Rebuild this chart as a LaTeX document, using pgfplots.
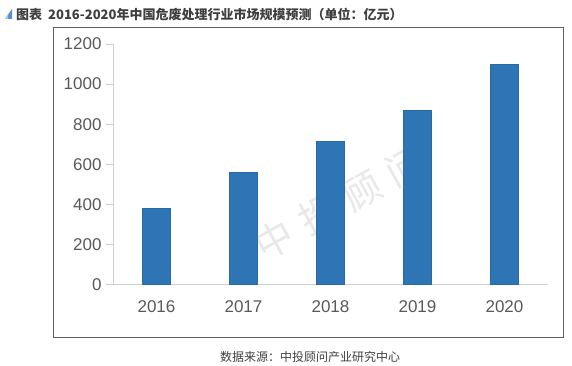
\documentclass[border=0pt]{standalone}
\usepackage{pgfplots}
\pgfplotsset{compat=1.18}
\usepackage{fontspec}
\setmainfont{Liberation Sans}
\newfontfamily\cjk{Noto Sans CJK SC}
\definecolor{barblue}{HTML}{2E75B6}
\definecolor{axgray}{HTML}{D0D0D0}
\definecolor{lblgray}{HTML}{595959}
\definecolor{ttlgray}{HTML}{3F3F3F}
\begin{document}
\begin{tikzpicture}[x=1pt,y=1pt]
\path (0,0) rectangle (572,-366);
% frame
\draw[color=gray!75!black, line width=1pt] (53,-28) rectangle (563,-337);
% watermark
\node[rotate=29, text=gray!18, font=\cjk\fontsize{38}{38}\selectfont] at (340,-203) {中\hspace{12pt}投\hspace{12pt}顾\hspace{12pt}问};
\begin{axis}[
  at={(113pt,-284.5pt)}, anchor=south west,
  scale only axis, width=435pt, height=240.5pt,
  xmin=-0.5, xmax=4.5, ymin=0, ymax=1200,
  axis lines*=left,
  axis line style={draw=axgray, line width=0.8pt},
  xtick=data, xticklabels={2016,2017,2018,2019,2020},
  ytick={0,200,...,1200},
  major x tick style={draw=none},
  major y tick style={draw=axgray, line width=0.8pt},
  tick align=outside, major tick length=7pt,
  ticklabel style={font=\fontsize{17}{17}\selectfont, text=lblgray},
  /pgf/number format/assume math mode=true,
  /pgf/number format/1000 sep={},
  xticklabel style={yshift=-6pt},
  yticklabel style={xshift=-1pt},
  ybar, bar width=28pt,
]
\addplot[fill=barblue, draw=barblue!90!black, line width=0.4pt] coordinates {(0,380) (1,560) (2,715) (3,868) (4,1100)};
\end{axis}
% title icon
\fill[barblue!80] (5,-19) -- (12,-19) -- (12,-9) -- cycle;
\fill[barblue!40] (5,-19) -- (8,-19) -- (8,-14) -- cycle;
% title
\node[anchor=west, text=ttlgray, font=\cjk\bfseries\fontsize{13}{13}\selectfont, inner sep=0pt] at (16,-14) {图表\hspace{6pt}2016-2020年中国危废处理行业市场规模预测（单位：亿元）};
% source
\node[text=ttlgray, font=\cjk\fontsize{12}{12}\selectfont, inner sep=0pt] at (310,-357) {数据来源：中投顾问产业研究中心};
\end{tikzpicture}
\end{document}
